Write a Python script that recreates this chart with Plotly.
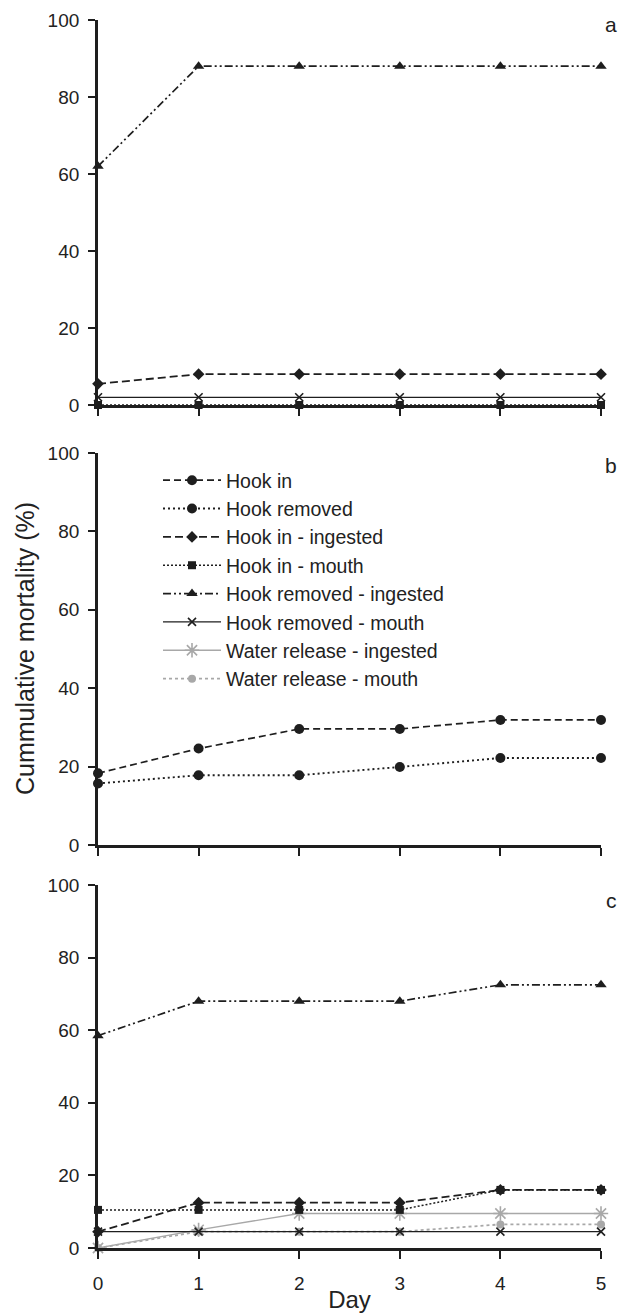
import plotly.graph_objects as go
from plotly.subplots import make_subplots

days = [0, 1, 2, 3, 4, 5]
series_names = ["Hook in", "Hook removed", "Hook in - ingested", "Hook in - mouth",
                "Hook removed - ingested", "Hook removed - mouth",
                "Water release - ingested", "Water release - mouth"]

# Panel a
a_hook_in_ingested = [5.5, 8, 8, 8, 8, 8]
a_hook_in_mouth = [0, 0, 0, 0, 0, 0]
a_hook_removed_ingested = [62, 88, 88, 88, 88, 88]
a_hook_removed_mouth = [2, 2, 2, 2, 2, 2]

# Panel b
b_hook_in = [18.3, 24.6, 29.6, 29.6, 31.9, 31.9]
b_hook_removed = [15.7, 17.8, 17.8, 19.9, 22.2, 22.2]

# Panel c
c_hook_in_ingested = [4.5, 12.5, 12.5, 12.5, 16, 16]
c_hook_in_mouth = [10.5, 10.5, 10.5, 10.5, 16, 16]
c_hook_removed_ingested = [58.5, 68, 68, 68, 72.5, 72.5]
c_hook_removed_mouth = [4.5, 4.5, 4.5, 4.5, 4.5, 4.5]
c_water_ingested = [0, 5, 9.5, 9.5, 9.5, 9.5]
c_water_mouth = [0, 4.5, 4.5, 4.5, 6.5, 6.5]

y_ticks = [0, 20, 40, 60, 80, 100]
panel_labels = ["a", "b", "c"]

BLACK = "#1e1e1e"
GRAY = "#a8a8a8"
TXT = "#222222"
FAM = "Liberation Sans, Arial, sans-serif"
styles = {
    "Hook in": dict(color=BLACK, dash="7px,4px", symbol="circle", size=10, lw=1.7),
    "Hook removed": dict(color=BLACK, dash="2px,3px", symbol="circle", size=10, lw=1.9),
    "Hook in - ingested": dict(color=BLACK, dash="8px,4px", symbol="diamond", size=9, lw=1.8),
    "Hook in - mouth": dict(color=BLACK, dash="2px,2px", symbol="square", size=8, lw=1.5),
    "Hook removed - ingested": dict(color=BLACK, dash="8px,3px,2px,3px,2px,3px", symbol="triangle-up", size=10, lw=1.7),
    "Hook removed - mouth": dict(color=BLACK, dash="solid", symbol="x-thin-open", size=8, lw=1.3),
    "Water release - ingested": dict(color=GRAY, dash="solid", symbol="asterisk-open", size=12, lw=1.4),
    "Water release - mouth": dict(color=GRAY, dash="3px,3px", symbol="circle", size=8, lw=1.8),
}

fig = make_subplots(rows=3, cols=1, shared_xaxes=False)

shown = set()

def add(name, y, row):
    s = styles[name]
    show = name not in shown
    shown.add(name)
    marker = dict(symbol=s["symbol"], size=s["size"], color=s["color"])
    if "open" in s["symbol"]:
        marker["line"] = dict(color=s["color"], width=1.6)
    fig.add_trace(go.Scatter(
        x=days, y=y, name=name, mode="lines+markers",
        line=dict(color=s["color"], dash=s["dash"], width=s["lw"]),
        marker=marker, cliponaxis=False,
        legendgroup=name, showlegend=show,
        legendrank=series_names.index(name) + 1,
    ), row=row, col=1)

add("Hook in - mouth", a_hook_in_mouth, 1)
add("Hook in - ingested", a_hook_in_ingested, 1)
add("Hook removed - mouth", a_hook_removed_mouth, 1)
add("Hook removed - ingested", a_hook_removed_ingested, 1)

add("Hook in", b_hook_in, 2)
add("Hook removed", b_hook_removed, 2)

add("Water release - mouth", c_water_mouth, 3)
add("Water release - ingested", c_water_ingested, 3)
add("Hook removed - mouth", c_hook_removed_mouth, 3)
add("Hook in - mouth", c_hook_in_mouth, 3)
add("Hook in - ingested", c_hook_in_ingested, 3)
add("Hook removed - ingested", c_hook_removed_ingested, 3)

T, B = 20, 65
H = 1313
L, R = 98, 29
ph = H - T - B
pw = 630 - L - R
def dom(top_px, bot_px):
    return [(H - B - bot_px) / ph, (H - B - top_px) / ph]
def py(px):
    return (H - B - px) / ph

domains = [dom(20, 405), dom(453, 845), dom(885, 1248)]
label_y = [24, 465, 900]

tickfont = dict(family=FAM, size=19, color=TXT)
for i in range(3):
    r = i + 1
    fig.update_yaxes(range=[0, 100], tickvals=y_ticks, ticks="outside", ticklen=7, tickwidth=2.2,
                     tickcolor=BLACK, showline=True, linecolor=BLACK, linewidth=2.8,
                     showgrid=False, zeroline=False, domain=domains[i], tickfont=tickfont,
                     ticklabelstandoff=5, automargin=False, row=r, col=1)
    fig.update_xaxes(range=[0, 5], tickvals=days, ticks="outside", ticklen=8, tickwidth=2.2,
                     tickcolor=BLACK, showline=True, linecolor=BLACK, linewidth=2.8,
                     showgrid=False, zeroline=False, tickfont=tickfont,
                     ticklabelstandoff=8, automargin=False,
                     showticklabels=(r == 3), row=r, col=1)
    fig.add_annotation(text=panel_labels[i], xref="paper", yref="paper",
                       x=(611 - L) / pw, y=py(label_y[i]),
                       xanchor="center", yanchor="middle",
                       showarrow=False, font=dict(family=FAM, size=21, color=TXT))

fig.update_xaxes(title=dict(text="Day", font=dict(family=FAM, size=24, color=TXT), standoff=2),
                 row=3, col=1)

fig.add_annotation(text="Cummulative mortality (%)", xref="paper", yref="paper",
                   x=-(L - 25) / pw, y=(domains[1][0] + domains[1][1]) / 2, textangle=-90,
                   xanchor="center", yanchor="middle", showarrow=False,
                   font=dict(family=FAM, size=25, color=TXT))

fig.update_layout(
    width=630, height=H,
    margin=dict(l=L, r=R, t=T, b=B, autoexpand=False),
    plot_bgcolor="white", paper_bgcolor="white",
    font=tickfont,
    legend=dict(x=(158 - L) / pw, y=py(461), xanchor="left", yanchor="top",
                font=dict(family=FAM, size=19.5, color=TXT),
                bgcolor="rgba(0,0,0,0)", tracegroupgap=0, itemwidth=58),
)

fig.write_html("out.html", config={"displayModeBar": False},
               post_script="document.body.style.margin='0';document.body.style.overflow='hidden';")
